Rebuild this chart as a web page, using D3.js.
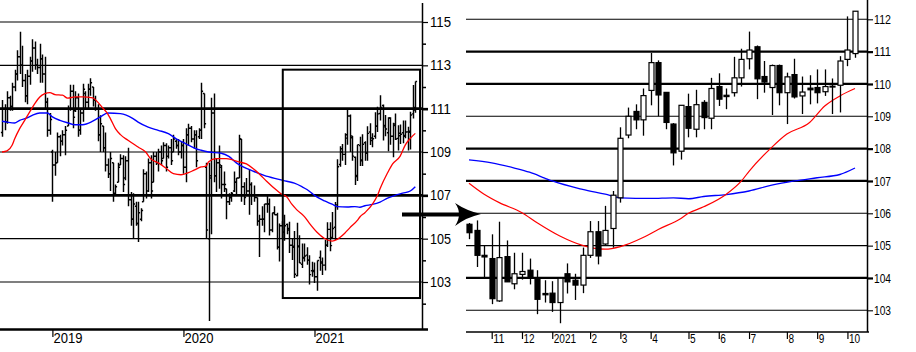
<!DOCTYPE html>
<html><head><meta charset="utf-8">
<script src="https://cdn.jsdelivr.net/npm/d3@7"></script>
<style>html,body{margin:0;padding:0;background:#fff;} svg{display:block;}</style>
</head><body>
<svg id="c" width="916" height="352"></svg>
<script>
// ---- DATA (weekly USD/JPY-like bars, weeks ending Friday) ----
const startWeek = "2018-08-17";
const opens = [109.9,111.0,110.4,111.5,111.1,112.0,112.6,113.4,113.0,112.3,111.6,112.5,113.2,113.8,113.0,112.9,113.3,112.6,111.3,110.0,
109.0,108.4,108.5,109.7,109.5,109.8,110.2,111.0,111.8,110.9,111.5,110.0,110.8,111.7,111.3,111.9,112.0,111.4,111.0,109.8,
110.2,109.2,108.4,108.0,108.5,107.1,107.6,108.4,108.7,107.8,108.6,106.8,105.9,106.5,105.7,105.9,106.7,108.0,107.2,108.5,
107.6,108.8,108.5,109.0,108.7,109.3,108.8,109.2,109.0,109.5,109.3,109.0,109.3,108.3,109.8,110.1,109.6,109.8,109.7,110.0,
111.7,108.3,105.0,107.8,110.8,107.9,108.5,108.3,107.5,107.3,106.7,106.9,107.2,107.6,107.8,109.6,107.4,107.0,107.2,107.5,
107.0,106.9,105.8,105.9,105.9,106.6,106.6,105.4,106.2,106.1,104.6,105.6,105.3,
105.66,105.47,104.70,104.60,103.29,104.66,103.82,104.11,104.24,104.01,103.52,103.53,103.24,104.13,103.93,103.78,104.70,105.43,105.05,105.53,
106.48,108.42,109.15,108.89,109.80,110.66,109.74,108.76,107.92,109.30,108.60,109.43,108.94,109.92,109.65,109.73,110.19,110.78,111.15,110.23,
109.89,110.57,109.73,110.29,109.63,109.87,109.89,109.76,109.93,109.96,110.76,110.94];
const highs = [111.4,111.2,111.8,111.6,112.2,112.8,113.7,114.55,113.9,112.6,112.8,113.4,114.2,114.1,113.3,114.0,113.5,113.4,111.5,110.8,
109.1,109.0,109.9,109.8,110.0,110.2,111.15,112.1,112.1,111.8,111.7,111.0,112.15,111.8,112.15,112.4,112.0,111.6,111.2,110.7,
110.2,109.9,108.7,109.0,108.5,107.5,108.5,108.9,108.85,108.8,109.2,107.15,107.1,106.7,106.7,106.4,108.2,108.1,108.7,108.85,
109.0,109.0,109.15,109.3,109.45,109.4,109.3,109.6,109.8,109.6,109.6,109.5,109.6,110.1,110.3,110.2,110.0,110.0,110.1,112.2,
111.7,108.5,108.5,111.5,111.7,108.7,109.3,108.4,108.1,107.3,107.1,107.15,108.1,107.8,109.8,109.6,107.6,107.8,108.2,107.6,
107.45,106.9,106.1,106.5,106.6,107.0,106.85,106.2,106.5,106.2,105.7,105.8,106.1,
105.70,105.78,105.00,105.35,105.74,105.16,104.78,104.78,104.60,104.24,103.93,103.90,103.99,104.45,104.13,104.94,105.76,105.76,106.23,106.69,
108.66,109.27,109.37,109.86,110.96,110.73,109.74,108.79,109.34,109.70,109.82,109.50,110.19,110.33,109.86,110.84,111.09,111.62,111.19,110.71,
110.60,110.60,110.35,110.78,110.23,110.27,110.45,110.45,110.17,110.86,112.09,112.25];
const lows = [109.7,110.0,110.3,110.9,110.9,111.8,112.3,112.6,112.0,111.3,111.2,112.1,112.7,112.8,112.6,112.2,112.2,111.0,109.7,109.8,
106.7,107.9,108.5,108.8,109.3,108.85,110.2,110.9,110.1,110.85,109.7,109.8,110.4,111.0,111.0,111.6,111.1,110.9,109.5,109.0,
109.0,108.1,107.8,107.2,106.7,107.0,107.6,108.4,107.15,107.7,106.5,105.6,105.0,105.6,104.85,105.8,106.7,106.85,107.15,106.85,
107.6,108.4,108.1,108.4,108.7,108.1,108.7,108.4,109.0,109.15,108.85,108.7,108.0,107.6,109.3,109.45,109.15,108.3,109.6,109.6,
110.1,105.0,101.2,105.2,107.6,107.15,107.3,106.85,107.15,105.9,106.55,106.7,107.15,107.0,107.8,106.7,106.55,107.0,106.1,106.55,
106.7,105.6,104.15,105.6,105.3,106.2,105.15,105.3,106.1,104.5,103.95,105.0,104.9,
105.20,104.34,104.01,103.19,103.26,103.88,103.65,103.95,103.80,102.88,103.24,102.95,102.60,103.52,103.32,103.53,104.62,104.42,105.00,104.94,
106.33,108.32,108.60,108.40,109.34,109.00,108.60,107.48,107.66,108.35,108.35,108.60,108.60,109.32,109.22,109.61,109.92,110.45,109.53,109.73,
109.04,109.34,108.76,109.55,109.07,109.37,109.40,109.63,109.07,109.12,110.55,110.81];
const closes = [111.0,110.4,111.5,111.1,112.0,112.6,113.4,113.0,112.3,111.6,112.5,113.2,113.8,113.0,112.9,113.3,112.6,111.3,110.0,110.5,
108.4,108.5,109.7,109.5,109.8,110.0,111.0,111.8,110.6,111.5,110.0,110.8,111.9,111.3,111.9,112.2,111.4,111.0,109.8,110.3,
109.2,108.4,108.0,108.7,107.0,107.4,108.3,108.7,107.5,108.6,106.8,105.9,106.6,105.7,106.2,106.3,108.0,107.0,108.5,107.2,
108.8,108.5,109.0,108.6,109.3,108.3,109.2,108.6,109.6,109.3,109.0,109.3,108.3,109.8,110.1,109.6,109.8,108.6,110.0,111.8,
110.3,105.4,107.9,110.8,107.9,108.5,108.4,107.5,107.5,106.7,106.9,107.1,107.6,107.8,109.6,107.4,106.9,107.2,107.5,107.0,
106.9,105.8,105.9,105.9,106.6,106.6,105.4,106.2,106.1,104.6,105.6,105.3,105.6,
105.40,104.70,104.65,103.36,104.63,103.88,104.13,104.20,104.01,103.34,103.48,103.24,103.99,103.88,103.78,104.70,105.43,104.68,105.47,106.56,
108.32,109.00,108.89,109.64,110.66,109.66,108.81,107.87,109.34,108.63,109.36,108.96,109.86,109.53,109.61,110.19,110.76,111.05,110.16,110.06,
110.57,109.73,110.22,109.60,109.75,109.82,109.73,109.92,109.91,110.71,111.05,112.25];

// moving averages: week index -> value
const redWeeks  = [0,2,4,5,7,9,11,13,15,17,19,21,24,26,29,32,36,38,40,42,43,45,47,50,54,57,59,62,65,68,71,74,76,79,81,82,85,89,94,97,100,102,105,109,111,
113,115,117,120,122,125,128,131,133,136,138,141,142,144,147,149,150,153,155,158,160,162,164];
const redValues = [109.0,109.05,109.31,109.6,110.08,110.46,110.85,111.23,111.54,111.69,111.74,111.65,111.62,111.49,111.54,111.54,111.5,111.3,111.03,110.75,110.54,110.08,109.8,109.54,109.23,109.0,108.69,108.5,108.26,108.0,107.95,108.05,108.15,108.31,108.35,108.55,108.69,108.69,108.54,108.45,108.2,108.0,107.65,107.23,107.05,
106.93,106.59,106.33,106.02,105.71,105.3,105.01,104.89,104.97,105.25,105.5,105.84,106.0,106.2,106.59,107.0,107.3,108.04,108.45,108.81,109.32,109.63,109.86];
const blueWeeks  = [0,2,5,7,10,12,15,18,20,23,26,29,32,36,39,42,47,52,54,58,62,66,69,73,77,79,82,87,90,93,100,104,109,
113,116,119,121,123,124,128,131,133,137,140,142,144,147,150,153,156,159,162,164];
const blueValues = [110.42,110.38,110.34,110.46,110.57,110.69,110.8,110.8,110.62,110.46,110.35,110.26,110.26,110.42,110.62,110.8,110.77,110.54,110.38,110.15,110.0,109.85,109.62,109.38,109.15,109.08,109.0,108.94,108.8,108.5,108.1,107.92,107.76,
107.65,107.56,107.4,107.27,107.09,107.0,106.74,106.59,106.48,106.46,106.48,106.45,106.52,106.58,106.69,106.87,107.0,107.1,107.2,107.4];

const zoomStart = 113;                 // first week shown in the right panel
const leftLabelTicks = [103,105,107,109,111,113,115];
const leftMinorTicks = [102,104,106,108,110,112,114];
const leftThick = [107,111];
const rightTicks = [103,104,105,106,107,108,109,110,111,112];
const rightThick = [104,107,108,110,111];

// ---- BUILD ----
const n = opens.length;
const start = d3.timeParse("%Y-%m-%d")(startWeek);
const dates = d3.range(n).map(i => d3.timeDay.offset(start, 7*i));
const bars = d3.range(n).map(i => ({i, d: dates[i], o: opens[i], h: highs[i], l: lows[i], c: closes[i]}));
const redMA = redWeeks.map((w,k) => ({w, v: redValues[k]}));
const blueMA = blueWeeks.map((w,k) => ({w, v: blueValues[k]}));

const svg = d3.select("#c");
svg.append("rect").attr("width",916).attr("height",352).attr("fill","#fff");
const FONT = "'Liberation Sans', Arial, sans-serif";

// scales
const xL = d3.scaleLinear().domain([0, n-1]).range([2, 415.3]);
const yL = d3.scaleLinear().domain([103, 115]).range([282, 22]);
const xR = d3.scaleLinear().domain([zoomStart, n-1]).range([469, 855]);
const yR = d3.scaleLinear().domain([103, 112]).range([310.3, 19.3]);

// ---------- LEFT PANEL ----------
const L = svg.append("g");
L.append("clipPath").attr("id","clipL").append("rect").attr("x",0).attr("y",0).attr("width",422).attr("height",328);
// gridlines
L.selectAll("line.g").data(leftLabelTicks).join("line")
  .attr("x1",0).attr("x2",422).attr("y1",d=>yL(d)).attr("y2",d=>yL(d))
  .attr("stroke","#000").attr("stroke-width",d=>leftThick.includes(d)?2.6:1.2);

// bars
const gL = L.append("g").attr("clip-path","url(#clipL)");
gL.selectAll("path.bar").data(bars).join("path")
  .attr("d", b => {
    const x = Math.round(xL(b.i)) + 0.5;
    return `M${x},${yL(b.h)}V${yL(b.l)}M${x-1.6},${yL(b.o)}H${x}M${x},${yL(b.c)}H${x+1.6}`;
  })
  .attr("stroke","#000").attr("stroke-width",1.45).attr("fill","none");

const lineL = d3.line().x(d=>xL(d.w)).y(d=>yL(d.v)).curve(d3.curveMonotoneX);
gL.append("path").datum(blueMA).attr("d",lineL).attr("fill","none").attr("stroke","#0000ff").attr("stroke-width",1.4);
gL.append("path").datum(redMA).attr("d",lineL).attr("fill","none").attr("stroke","#ff0000").attr("stroke-width",1.3);

// zoom box
L.append("rect").attr("x", xL(zoomStart)-4).attr("y", yL(112.8)).attr("width", 420 - (xL(zoomStart)-4)).attr("height", yL(102.26)-yL(112.8))
  .attr("fill","none").attr("stroke","#000").attr("stroke-width",2);

// right axis of left panel
const axL = d3.axisRight(yL).tickValues(leftLabelTicks).tickSize(6).tickPadding(2).tickFormat(d3.format("d"));
const gAxL = L.append("g").attr("transform","translate(422,0)").call(axL);
gAxL.select(".domain").remove();
gAxL.selectAll("line").attr("stroke","#000").attr("stroke-width",d=>leftThick.includes(d)?2.6:1.2);
gAxL.selectAll("text").attr("font-family",FONT).attr("font-size",14).attr("fill","#000")
  .attr("textLength",21).attr("lengthAdjust","spacingAndGlyphs");
const axLm = d3.axisRight(yL).tickValues(leftMinorTicks).tickSize(4).tickFormat("");
const gAxLm = L.append("g").attr("transform","translate(422,0)").call(axLm);
gAxLm.select(".domain").remove();
gAxLm.selectAll("line").attr("stroke","#000").attr("stroke-width",1.5);
L.append("line").attr("x1",422.5).attr("x2",422.5).attr("y1",3).attr("y2",329).attr("stroke","#000").attr("stroke-width",1.5);

// bottom axis left: first week of each year
const yearIdx = bars.filter((b,k)=> k>0 && b.d.getFullYear() !== dates[k-1].getFullYear()).map(b=>b.i);
const axBL = d3.axisBottom(xL).tickValues(yearIdx).tickSize(8).tickPadding(0)
  .tickFormat(i => d3.timeFormat("%Y")(dates[i]));
const gBL = L.append("g").attr("transform","translate(0,329)").call(axBL);
gBL.select(".domain").remove();
gBL.selectAll("line").attr("stroke","#000").attr("stroke-width",1.2);
gBL.selectAll("text").attr("font-family",FONT).attr("font-size",14).attr("fill","#000")
  .attr("text-anchor","start").attr("dx",0.5).attr("dy","0.45em").attr("textLength",29).attr("lengthAdjust","spacingAndGlyphs");
L.append("line").attr("x1",0).attr("x2",428).attr("y1",329.5).attr("y2",329.5).attr("stroke","#000").attr("stroke-width",2.5);

// ---------- ARROW ----------
svg.append("rect").attr("x",402).attr("y",212.5).attr("width",60).attr("height",4).attr("fill","#000");
svg.append("path").attr("d","M455,203 Q467,211 481,214 Q467,217 455,226 Q463,214 455,203 Z").attr("fill","#000");

// ---------- RIGHT PANEL ----------
const R = svg.append("g");
R.selectAll("line.g").data(rightTicks).join("line")
  .attr("x1",466).attr("x2",867).attr("y1",d=>yR(d)).attr("y2",d=>yR(d))
  .attr("stroke","#000").attr("stroke-width",d=>rightThick.includes(d)?2.2:1.1);

const zb = bars.filter(b => b.i >= zoomStart);
const lineR = d3.line().x(d=>xR(d.w)).y(d=>yR(d.v)).curve(d3.curveMonotoneX);
R.append("path").datum(blueMA.filter(d=>d.w>=zoomStart)).attr("d",lineR).attr("fill","none").attr("stroke","#0000ff").attr("stroke-width",1.3);
R.append("path").datum(redMA.filter(d=>d.w>=zoomStart)).attr("d",lineR).attr("fill","none").attr("stroke","#ff0000").attr("stroke-width",1.2);

const cw = 5;
const cg = R.selectAll("g.c").data(zb).join("g");
cg.append("line")
  .attr("x1",b=>Math.round(xR(b.i))+0.5).attr("x2",b=>Math.round(xR(b.i))+0.5)
  .attr("y1",b=>yR(b.h)).attr("y2",b=>yR(b.l)).attr("stroke","#000").attr("stroke-width",1.3);
cg.append("rect")
  .attr("x",b=>Math.round(xR(b.i))+0.5-cw/2).attr("width",cw)
  .attr("y",b=>yR(Math.max(b.o,b.c))).attr("height",b=>Math.max(0.8, Math.abs(yR(b.o)-yR(b.c))))
  .attr("fill",b=> b.c < b.o ? "#000" : "#fff").attr("stroke","#000").attr("stroke-width",1.2);

// right axis
const axR = d3.axisRight(yR).tickValues(rightTicks).tickSize(6).tickPadding(1).tickFormat(d3.format("d"));
const gAxR = R.append("g").attr("transform","translate(867,0)").call(axR);
gAxR.select(".domain").remove();
gAxR.selectAll("line").attr("stroke","#000").attr("stroke-width",d=>rightThick.includes(d)?2.2:1.1);
gAxR.selectAll("text").attr("font-family",FONT).attr("font-size",13).attr("fill","#000")
  .attr("textLength",17).attr("lengthAdjust","spacingAndGlyphs");
R.append("line").attr("x1",867.5).attr("x2",867.5).attr("y1",0).attr("y2",332).attr("stroke","#000").attr("stroke-width",1.5);

// bottom axis right: first week of each month
const monthIdx = zb.filter(b => b.i > zoomStart && b.d.getMonth() !== dates[b.i-1].getMonth()).map(b=>b.i);
const axBR = d3.axisBottom(xR).tickValues(monthIdx).tickSize(7).tickPadding(0)
  .tickFormat(i => dates[i].getMonth()===0 ? d3.timeFormat("%Y")(dates[i]) : String(dates[i].getMonth()+1));
const gBR = R.append("g").attr("transform","translate(0,332)").call(axBR);
gBR.select(".domain").remove();
gBR.selectAll("line").attr("stroke","#000").attr("stroke-width",1.2);
gBR.selectAll("text").attr("font-family",FONT).attr("font-size",12).attr("fill","#000")
  .attr("text-anchor","start").attr("dx",1).attr("dy","0.35em")
  .each(function(){ const t=d3.select(this).text(); d3.select(this).attr("textLength", 5.6*t.length).attr("lengthAdjust","spacingAndGlyphs"); });
R.append("line").attr("x1",466).attr("x2",869).attr("y1",332).attr("y2",332).attr("stroke","#000").attr("stroke-width",1.5);
</script>
</body></html>
